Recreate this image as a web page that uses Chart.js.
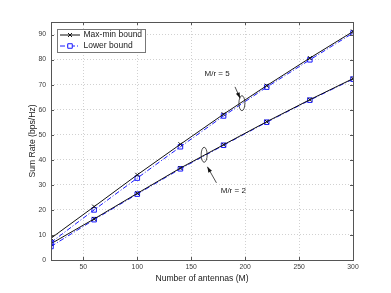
<!DOCTYPE html>
<html>
<head>
  <meta charset="utf-8" />
  <title>Sum rate vs antennas</title>
  <script src="https://cdn.jsdelivr.net/npm/chart.js@4.4.1/dist/chart.umd.min.js"></script>
  <style>
    html, body { margin: 0; padding: 0; background: #fff; }
    #wrap { width: 391px; height: 293px; }
  </style>
</head>
<body>
  <div id="wrap"><canvas id="rate"></canvas></div>
  <script>
    // values
    var antennas = [20, 60, 100, 140, 180, 220, 260, 300];
    var maxMin5 = [8.7, 21.3, 34.0, 46.2, 58.2, 69.6, 80.6, 91.2];
    var lower5  = [7.0, 20.0, 32.7, 45.2, 57.5, 69.0, 79.9, 90.6];
    var maxMin2 = [6.5, 16.4, 26.6, 36.7, 46.0, 55.2, 64.0, 72.4];
    var lower2  = [5.4, 16.1, 26.3, 36.4, 45.8, 55.0, 63.8, 72.2];
    var xTicks = [50, 100, 150, 200, 250, 300];
    var yTicks = [0, 10, 20, 30, 40, 50, 60, 70, 80, 90];
    var legendLabels = ["Max-min bound", "Lower bound"];

    var FONT = "'Liberation Sans', Arial, sans-serif";
    var BLUE = "#1a1aff";

    function pts(ys) {
      return antennas.map(function (x, i) { return { x: x, y: ys[i] }; });
    }

    var maxMinStyle = {
      borderColor: "#111", backgroundColor: "#111", borderWidth: 1,
      pointStyle: "crossRot", pointRadius: 2.8, pointBorderWidth: 1
    };
    var lowerStyle = {
      borderColor: BLUE, backgroundColor: "rgba(0,0,0,0)", borderWidth: 1,
      borderDash: [5, 2, 1, 2], pointStyle: "rect", pointRadius: 3.2,
      pointBorderWidth: 1
    };

    // box, inward ticks, legend and the ellipse notes
    var decor = {
      id: "decor",
      afterDatasetsDraw: function (chart) {
        var ctx = chart.ctx, a = chart.chartArea;
        var sx = chart.scales.x, sy = chart.scales.y;
        ctx.save();
        ctx.strokeStyle = "#555";
        ctx.lineWidth = 1;
        ctx.setLineDash([]);
        ctx.strokeRect(Math.round(a.left) + 0.5, Math.round(a.top) + 0.5,
          Math.round(a.right - a.left), Math.round(a.bottom - a.top));
        ctx.beginPath();
        xTicks.forEach(function (v) {
          var px = Math.round(sx.getPixelForValue(v)) + 0.5;
          ctx.moveTo(px, a.bottom); ctx.lineTo(px, a.bottom - 3);
          ctx.moveTo(px, a.top); ctx.lineTo(px, a.top + 3);
        });
        yTicks.forEach(function (v) {
          var py = Math.round(sy.getPixelForValue(v)) + 0.5;
          ctx.moveTo(a.left, py); ctx.lineTo(a.left + 3, py);
          ctx.moveTo(a.right, py); ctx.lineTo(a.right - 3, py);
        });
        ctx.stroke();

        // legend
        var lx = 57.5, ly = 29.5, lw = 88, lh = 23;
        ctx.fillStyle = "#fff";
        ctx.fillRect(lx, ly, lw, lh);
        ctx.strokeStyle = "#777";
        ctx.strokeRect(lx, ly, lw, lh);
        var rows = [
          { y: 35, s: maxMinStyle },
          { y: 46, s: lowerStyle }
        ];
        rows.forEach(function (r, i) {
          ctx.strokeStyle = r.s.borderColor;
          ctx.lineWidth = 1;
          ctx.setLineDash(r.s.borderDash || []);
          ctx.beginPath();
          ctx.moveTo(60, r.y); ctx.lineTo(80, r.y);
          ctx.stroke();
          ctx.setLineDash([]);
          ctx.fillStyle = "#fff";
          Chart.helpers.drawPoint(ctx, {
            pointStyle: r.s.pointStyle, radius: r.s.pointRadius, borderWidth: 1
          }, 70, r.y);
          ctx.fillStyle = "#1a1a1a";
          ctx.font = "8.5px " + FONT;
          ctx.textBaseline = "middle";
          ctx.textAlign = "left";
          ctx.fillText(legendLabels[i], 83.5, r.y);
        });

        // notes
        function note(ex, ey, tx, ty, label, ax0, ay0, ax1, ay1) {
          var cx = sx.getPixelForValue(ex), cy = sy.getPixelForValue(ey);
          ctx.strokeStyle = "#222";
          ctx.lineWidth = 0.8;
          ctx.beginPath();
          ctx.ellipse(cx, cy, 3, 7.5, 0, 0, Math.PI * 2);
          ctx.stroke();
          var x0 = sx.getPixelForValue(ax0), y0 = sy.getPixelForValue(ay0);
          var x1 = sx.getPixelForValue(ax1), y1 = sy.getPixelForValue(ay1);
          ctx.beginPath();
          ctx.moveTo(x0, y0); ctx.lineTo(x1, y1);
          ctx.stroke();
          var ang = Math.atan2(y1 - y0, x1 - x0);
          ctx.fillStyle = "#111";
          ctx.beginPath();
          ctx.moveTo(x1, y1);
          ctx.lineTo(x1 - 6 * Math.cos(ang - 0.35), y1 - 6 * Math.sin(ang - 0.35));
          ctx.lineTo(x1 - 6 * Math.cos(ang + 0.35), y1 - 6 * Math.sin(ang + 0.35));
          ctx.closePath();
          ctx.fill();
          ctx.fillStyle = "#1a1a1a";
          ctx.font = "8px " + FONT;
          ctx.textAlign = "center";
          ctx.textBaseline = "middle";
          ctx.fillText(label, sx.getPixelForValue(tx), sy.getPixelForValue(ty));
        }
        note(197, 62.6, 174, 74.3, "M/r = 5", 190.6, 69.1, 195.3, 64.6);
        note(162, 42, 189, 27.8, "M/r = 2", 173.4, 30.8, 165, 37.2);
        ctx.restore();
      }
    };

    new Chart(document.getElementById("rate").getContext("2d"), {
      type: "line",
      data: {
        datasets: [
          Object.assign({ label: "Max-min M/r=5", data: pts(maxMin5) }, maxMinStyle),
          Object.assign({ label: "Lower M/r=5", data: pts(lower5) }, lowerStyle),
          Object.assign({ label: "Max-min M/r=2", data: pts(maxMin2) }, maxMinStyle),
          Object.assign({ label: "Lower M/r=2", data: pts(lower2) }, lowerStyle)
        ]
      },
      options: {
        responsive: true,
        maintainAspectRatio: false,
        animation: false,
        layout: { padding: { top: 22, right: 38, left: 0, bottom: 0 } },
        plugins: { legend: { display: false }, tooltip: { enabled: false } },
        elements: { line: { tension: 0 } },
        scales: {
          x: {
            type: "linear", min: 20, max: 300,
            afterBuildTicks: function (s) { s.ticks = xTicks.map(function (v) { return { value: v }; }); },
            afterFit: function (s) { s.height = 33; },
            grid: { color: "rgba(0,0,0,0.18)", drawTicks: false, tickLength: 0 },
            border: { display: false, dash: [1, 2] },
            ticks: { font: { size: 6.8, family: FONT }, color: "#3a3a3a", padding: 3, maxRotation: 0 },
            title: { display: true, text: "Number of antennas (M)", color: "#1a1a1a",
              font: { size: 8.6, family: FONT }, padding: { top: 0, bottom: 9 } }
          },
          y: {
            min: 0, max: 95,
            afterBuildTicks: function (s) { s.ticks = yTicks.map(function (v) { return { value: v }; }); },
            afterFit: function (s) { s.width = 51; },
            grid: { color: "rgba(0,0,0,0.18)", drawTicks: false, tickLength: 0 },
            border: { display: false, dash: [1, 2] },
            ticks: { font: { size: 6.8, family: FONT }, color: "#3a3a3a", padding: 5 },
            title: { display: true, text: "Sum Rate (bps/Hz)", color: "#1a1a1a",
              font: { size: 8.6, family: FONT }, padding: { top: 27.5, bottom: 0 } }
          }
        }
      },
      plugins: [decor]
    });
  </script>
</body>
</html>
